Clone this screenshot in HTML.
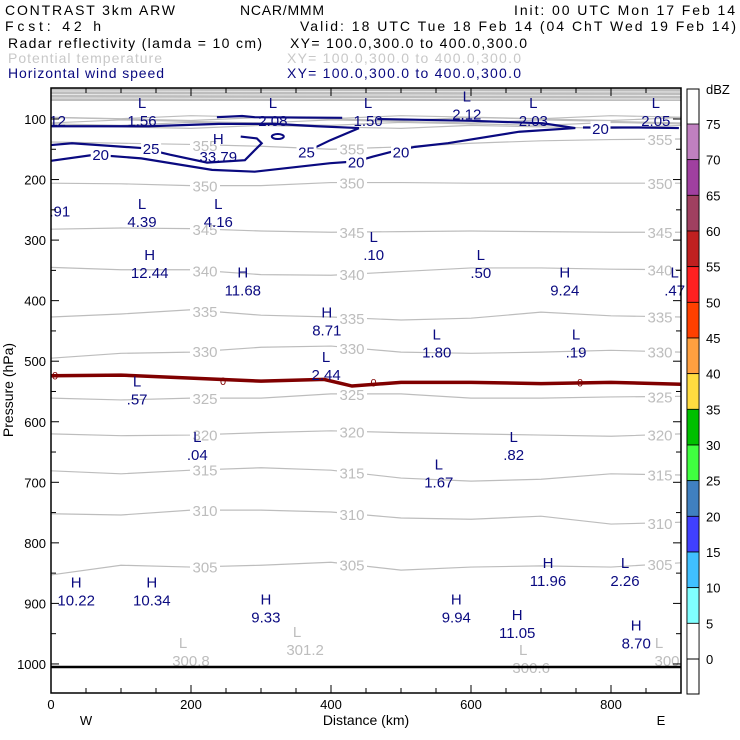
<!DOCTYPE html>
<html><head><meta charset="utf-8"><style>
html,body{margin:0;padding:0;background:#fff}
svg{display:block;font-family:"Liberation Sans",sans-serif}
</style></head><body>
<svg id="c" width="740" height="740" viewBox="0 0 740 740">
<g id="hdr" font-size="14">
<text x="5" y="15" textLength="170">CONTRAST  3km ARW</text>
<text x="240" y="15" textLength="84">NCAR/MMM</text>
<text x="514" y="15" textLength="221">Init: 00 UTC Mon 17 Feb 14</text>
<text x="5" y="31" textLength="96">Fcst:   42 h</text>
<text x="300" y="31" textLength="436">Valid: 18 UTC Tue 18 Feb 14 (04 ChT Wed 19 Feb 14)</text>
<text x="8" y="48" textLength="254">Radar reflectivity (lamda = 10 cm)</text>
<text x="290" y="48" textLength="237">XY= 100.0,300.0 to 400.0,300.0</text>
<text x="8" y="63" textLength="154" fill="#c8c8c8">Potential temperature</text>
<text x="287" y="63" textLength="234" fill="#c8c8c8">XY= 100.0,300.0 to 400.0,300.0</text>
<text x="8" y="78" textLength="156" fill="#0a0a80">Horizontal wind speed</text>
<text x="287" y="78" textLength="234" fill="#0a0a80">XY= 100.0,300.0 to 400.0,300.0</text>
</g>
<g id="plot"></g>
</svg>
<script>
// ---- data ----
const xKm = [0,100,200,300,400,500,600,700,800,900];
const thetaLevels = [350,345,340,335,330,325,320,315,310,305];
const theta350 = [206,207,210,210,205,205,206,206,206,206];
const theta345 = [282,280,281,285,287,286,285,286,287,287];
const theta340 = [345,349,349,357,358,352,346,346,348,349];
const theta335 = [427,422,415,424,427,432,429,419,425,427];
const theta330 = [495,487,485,477,475,485,487,485,482,485];
const theta325 = [561,564,561,561,554,554,561,561,559,558];
const theta320 = [620,623,622,618,615,618,620,622,624,620];
const theta315 = [681,686,680,676,680,693,698,695,686,688];
const theta310 = [752,754,746,746,749,759,761,756,769,766];
const theta305 = [853,837,840,837,832,845,840,838,840,833];
const thetaUpper = [113,108,104,100,97];
const theta355 = [138,140,142,145,150,146,140,136,134,133];
const frzKm = [0,100,200,300,390,430,500,600,700,800,900];
const frzP = [524,523,528,533,530,541,535,535,537,535,538];
const wind20a = [[0,112],[140,112],[240,108],[320,108],[380,112],[440,115]];
const wind15a = [[237,97],[273,95],[291,97],[416,98]];
const wind20b = [[466,100],[601,103],[702,107],[749,115],[669,121],[567,140],[520,146],[487,154],[460,162],[436,170],[399,173],[291,187],[230,184],[129,165],[62,159],[0,169]];
const wind25a = [[0,143],[30,140],[130,148],[170,159],[223,172],[277,168],[301,140],[294,132],[271,129]];
const wind25b = [[365,154],[399,135],[440,115]];
const wind20c = [[760,114],[840,114],[897,115]];
const extLabels = ["L","L","L","L","L","L","H","L","L","L","L","H","H","H","L","H","L","L","L","L","L","L","L","H","L","H","H","H","H","H","H"];
const extValues = ["1.56","2.08","1.50","2.12","2.03","2.05","33.79","4.39","4.16",".10",".50","12.44","11.68","9.24",".47","8.71","1.80",".19","2.44",".57",".04",".82","1.67","11.96","2.26","10.22","10.34","9.33","9.94","11.05","8.70"];
const extKm = [130,317,453,594,689,864,239,130,239,461,614,141,274,734,891,394,551,750,393,123,209,661,554,710,820,36,144,307,579,666,836];
const extP = [98,98,98,88,98,98,158,265,265,320,349,349,378,378,378,444,481,481,518,558,650,650,695,858,858,890,890,918,918,944,961];
const grayLabels = ["300.8","301.2","300.6","300"];
const grayKm = [200,363,686,880];
const grayP = [990,972,1002,990];
const dbzLevels = [75,70,65,60,55,50,45,40,35,30,25,20,15,10,5,0];
const dbzColors = ["#c080c0","#a040a0","#a04060","#c02020","#ff2020","#ff4000","#ffa040","#ffdc40","#00c000","#40ff40","#4080c0","#4040ff","#40c0ff","#80ffff","#ffffff"];
const yTicks = [100,200,300,400,500,600,700,800,900,1000];
const xTicks = [0,200,400,600,800];

// ---- axes ----
const L=51,R=681,T=88,B=693;
const X = km => L + km*0.7;
const Y = p => 119 + (p-100)*0.6055;
const NS="http://www.w3.org/2000/svg";
const plot=document.getElementById('plot');
function mk(tag,attrs,parent){const e=document.createElementNS(NS,tag);for(const k in attrs)e.setAttribute(k,attrs[k]);(parent||plot).appendChild(e);return e;}
function txt(x,y,s,attrs){const e=mk('text',Object.assign({x:x,y:y},attrs));e.textContent=s;return e;}

let r=mk('rect',{x:L,y:T,width:R-L,height:B-T,fill:'#fff'});


r=mk('rect',{x:L,y:T,width:R-L,height:13,fill:'#bdbdbd'});


for(let i=0;i<3;i++){const l=mk('line',{x1:L,x2:R,y1:T+3+i*3.5,y2:T+4+i*3.5,stroke:'#e8e8e8','stroke-width':1});

}
thetaUpper.forEach((p,i)=>{const d=xKm.map((k,j)=>(j?'L':'M')+X(k)+','+(Y(p)+((j+i)%3-1)*1.5)).join('');
const e=mk('path',{d:d,fill:'none',stroke:'#bdbdbd','stroke-width':1.2});

});
const thetaSeries=[theta350,theta345,theta340,theta335,theta330,theta325,theta320,theta315,theta310,theta305];
function addTheta(arr,lev){
 const d=xKm.map((k,j)=>(j?'L':'M')+X(k)+','+Y(arr[j])).join('');
 const e=mk('path',{d:d,fill:'none',stroke:'#bdbdbd','stroke-width':1.2});
 
 
 [2.2,4.3,8.7].forEach(j=>{const i=Math.floor(j),f=j-i;const p=arr[i]*(1-f)+arr[i+1]*f;
  mk('rect',{x:X(j*100)-15,y:Y(p)-7,width:30,height:14,fill:'#fff'});
  const t=txt(X(j*100),Y(p)+6,String(lev),{'font-size':15,fill:'#bdbdbd','text-anchor':'middle'});
  
  });
}
thetaSeries.forEach((a,i)=>addTheta(a,thetaLevels[i]));
addTheta(theta355,355);
let fd=frzKm.map((k,j)=>(j?'L':'M')+X(k)+','+Y(frzP[j])).join('');
let fz=mk('path',{d:fd,fill:'none',stroke:'#800000','stroke-width':3.5});


[0,240,455,750].forEach(k=>{let i=frzKm.findIndex(v=>v>=k);const t=txt(X(k)+4,Y(frzP[Math.max(i,0)])+4,'0',{'font-size':11,fill:'#800000','text-anchor':'middle'});

});
function wline(arr,name){const d=arr.map((q,j)=>(j?'L':'M')+X(q[0])+','+Y(q[1])).join('');
 const e=mk('path',{d:d,fill:'none',stroke:'#0a0a80','stroke-width':2.2});
 
 }
wline(wind20a,'wind-contour-20-upper');wline(wind15a,'wind-contour-top');wline(wind20b,'wind-contour-20');
wline(wind25a,'wind-contour-25-left');wline(wind25b,'wind-contour-25-right');wline(wind20c,'wind-contour-20-right');
let el=mk('ellipse',{cx:X(324),cy:Y(129),rx:6,ry:2.5,fill:'none',stroke:'#0a0a80','stroke-width':2});


[[71,158,'20'],[143,148,'25'],[436,170,'20'],[500,154,'20'],[365,154,'25'],[785,115,'20']].forEach(q=>{
 mk('rect',{x:X(q[0])-10,y:Y(q[1])-7,width:20,height:14,fill:'#fff'});
 const t=txt(X(q[0]),Y(q[1])+6,q[2],{'font-size':15,fill:'#0a0a80','text-anchor':'middle'});
 
 });
extLabels.forEach((s,i)=>{
 const x=X(extKm[i]),y=Y(extP[i]);
 const a=txt(x,y-10,s,{'font-size':15,fill:'#0a0a80','text-anchor':'middle'});
 
 
 const b=txt(x,y+8,extValues[i],{'font-size':15,fill:'#0a0a80','text-anchor':'middle'});
 
 });
[["12",1,98],[".91",4,248]].forEach(q=>{const t=txt(X(q[1])+6,Y(q[2])+8,q[0],{'font-size':15,fill:'#0a0a80','text-anchor':'middle'});
 
 });
grayLabels.forEach((s,i)=>{const x=X(grayKm[i]),y=Y(grayP[i]);
 const a=txt(x-8,y-10,'L',{'font-size':15,fill:'#bdbdbd','text-anchor':'middle'});
 
 
 const b=txt(x,y+8,s,{'font-size':15,fill:'#bdbdbd','text-anchor':'middle'});
 
 });
let g=mk('line',{x1:L,x2:R,y1:Y(1005),y2:Y(1005),stroke:'#000','stroke-width':2.5});


let fr=mk('rect',{x:L,y:T,width:R-L,height:B-T,fill:'none',stroke:'#000','stroke-width':1.5});


for(let p=100;p<=1000;p+=50){const y=Y(p),len=p%100?5:8;
 mk('line',{x1:L,x2:L+len,y1:y,y2:y,stroke:'#000'});mk('line',{x1:R,x2:R-len,y1:y,y2:y,stroke:'#000'});}
yTicks.forEach(p=>{const t=txt(L-5,Y(p)+5,String(p),{'font-size':13,'text-anchor':'end'});
 
 });
for(let k=0;k<=900;k+=50){const x=X(k),len=k%200?5:8;
 mk('line',{x1:x,x2:x,y1:B,y2:B-len,stroke:'#000'});mk('line',{x1:x,x2:x,y1:T,y2:T+len,stroke:'#000'});}
xTicks.forEach(k=>{const t=txt(X(k),B+16,String(k),{'font-size':13,'text-anchor':'middle'});
 
 });
let t=txt(366,725,'Distance (km)',{'font-size':14,'text-anchor':'middle'});


t=txt(86,725,'W',{'font-size':13,'text-anchor':'middle'});


t=txt(661,725,'E',{'font-size':13,'text-anchor':'middle'});


t=txt(0,0,'Pressure (hPa)',{'font-size':14,'text-anchor':'middle',transform:'translate(13,390) rotate(-90)'});


const CB=687,CW=12,cbY=lev=>124+(75-lev)*(535/75);
mk('rect',{x:CB,y:89,width:CW,height:605,fill:'#fff',stroke:'#000'});
dbzColors.forEach((c,i)=>{const s=mk('rect',{x:CB,y:cbY(dbzLevels[i]),width:CW,height:cbY(dbzLevels[i+1])-cbY(dbzLevels[i]),fill:c,stroke:'#000','stroke-width':0.8});
 
 });
mk('line',{x1:CB,x2:CB+CW,y1:cbY(0),y2:cbY(0),stroke:'#000'});
dbzLevels.forEach(l=>{const q=txt(706,cbY(l)+5,String(l),{'font-size':13});
 
 });
t=txt(706,94,'dBZ',{'font-size':13});


</script>
</body></html>
